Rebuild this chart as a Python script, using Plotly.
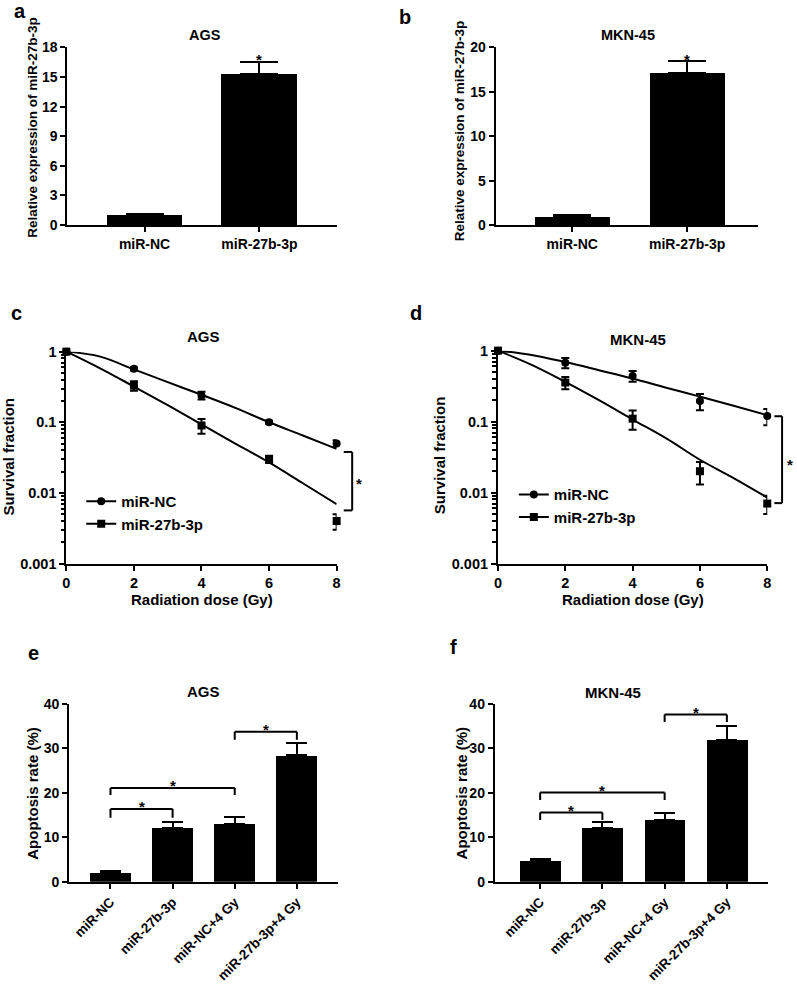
import math
import plotly.graph_objects as go

W, H = 797, 985

# === a / b : relative expression of miR-27b-3p ===
expr_groups = ["miR-NC", "miR-27b-3p"]
ags_expr = [0.97, 15.3]
ags_expr_err = [0.16, 1.25]
mkn_expr = [0.93, 17.1]
mkn_expr_err = [0.17, 1.4]

# === c / d : survival fraction ===
dose = [0, 2, 4, 6, 8]
ags_nc_sf = [1, 0.57, 0.24, 0.10, 0.05]
ags_nc_sd = [0, 0.03, 0.03, 0.005, 0.0055]
ags_mir_sf = [1, 0.33, 0.09, 0.03, 0.004]
ags_mir_sd = [0, 0.05, 0.021, 0.0035, 0.001]
mkn_nc_sf = [1, 0.675, 0.44, 0.195, 0.12]
mkn_nc_sd = [0, 0.11, 0.075, 0.05, 0.031]
mkn_mir_sf = [1, 0.356, 0.11, 0.02, 0.007]
mkn_mir_sd = [0, 0.07, 0.033, 0.007, 0.002]

# fitted curves at whole Gy
fit_dose = [0, 1, 2, 3, 4, 5, 6, 7, 8]
ags_nc_fit = [1, 0.85, 0.56, 0.37, 0.245, 0.16, 0.10, 0.065, 0.042]
ags_mir_fit = [1, 0.58, 0.32, 0.175, 0.093, 0.05, 0.027, 0.0137, 0.0069]
mkn_nc_fit = [1, 0.87, 0.69, 0.53, 0.405, 0.30, 0.225, 0.167, 0.123]
mkn_mir_fit = [1, 0.63, 0.363, 0.20, 0.107, 0.058, 0.029, 0.016, 0.0085]

# === e / f : apoptosis rate ===
apo_groups = ["miR-NC", "miR-27b-3p", "miR-NC+4 Gy", "miR-27b-3p+4 Gy"]
ags_apo = [1.95, 12.1, 13.1, 28.4]
ags_apo_err = [0.4, 1.3, 1.5, 2.8]
mkn_apo = [4.64, 12.1, 13.9, 31.9]
mkn_apo_err = [0.5, 1.3, 1.5, 3.1]

# significance brackets (left, right, top, leg end)
ags_brackets = [(0, 1, 16.35, 14.4), (0, 2, 21.1, 19.5), (2, 3, 33.7, 31.9)]
mkn_brackets = [(0, 1, 15.6, 13.9), (0, 2, 20.1, 18.4), (2, 3, 37.6, 35.9)]
# survival brackets (x, tick end, top, bottom, star x, star y)
ags_sf_bracket = (8.46, 8.21, 0.038, 0.00565, 8.67, 0.015)
mkn_sf_bracket = (8.44, 8.21, 0.119, 0.0071, 8.68, 0.0277)

FONT = "Liberation Sans, Arial, sans-serif"

# plot areas in pixels: x0, x1, y0 (top), y1 (bottom)
boxes = {
    1: (64, 336, 40, 220.7),
    2: (496.7, 762, 40, 220.7),
    3: (63, 336, 349.3, 564.7),
    4: (499, 771, 348.3, 564.7),
    5: (65.7, 337.7, 707.3, 888.3),
    6: (495.7, 771.7, 707.3, 888.3),
}


def px(x):
    return x / W


def py(y):
    return 1 - y / H


fig = go.Figure()

base_ax = dict(showline=True, linecolor="black", linewidth=2, ticks="outside",
               ticklen=5, tickwidth=2, tickcolor="black", showgrid=False,
               zeroline=False, tickfont=dict(size=14, color="black"))

layout = {}
for k, (x0, x1, y0, y1) in boxes.items():
    sfx = "" if k == 1 else str(k)
    layout["xaxis" + sfx] = dict(base_ax, domain=[px(x0), px(x1)], anchor="y" + sfx)
    layout["yaxis" + sfx] = dict(base_ax, domain=[py(y1), py(y0)], anchor="x" + sfx)


def bar_panel(k, groups, vals, errs, cap, xr, yr, dtick, tickangle=0, fsize=14):
    sfx = "" if k == 1 else str(k)
    fig.add_trace(go.Bar(
        x=list(range(len(groups))), y=vals, width=0.655,
        marker=dict(color="black", line=dict(width=0)),
        error_y=dict(type="data", array=errs, arrayminus=[0] * len(errs),
                     symmetric=False, color="black", thickness=2, width=cap),
        xaxis="x" + sfx, yaxis="y" + sfx, showlegend=False))
    layout["xaxis" + sfx].update(range=xr, tickmode="array",
                                 tickvals=list(range(len(groups))), ticktext=groups,
                                 tickangle=tickangle, tickfont=dict(size=fsize, color="black"))
    layout["yaxis" + sfx].update(range=yr, dtick=dtick, tick0=0)


bar_panel(1, expr_groups, ags_expr, ags_expr_err, 19, [-0.672, 1.672], [0, 18], 3)
bar_panel(2, expr_groups, mkn_expr, mkn_expr_err, 19, [-0.666, 1.62], [0, 20], 5)
bar_panel(5, apo_groups, ags_apo, ags_apo_err, 10.5, [-0.667, 3.667], [0, 40], 10, -45, 13.5)
bar_panel(6, apo_groups, mkn_apo, mkn_apo_err, 10.5, [-0.73, 3.66], [0, 40], 10, -45, 13.5)


def survival_panel(k, nc, nc_sd, mir, mir_sd, nc_fit, mir_fit, legend_id):
    sfx = str(k)
    for fit in (nc_fit, mir_fit):
        fig.add_trace(go.Scatter(x=fit_dose, y=fit, mode="lines", line_shape="spline",
                                 line=dict(color="black", width=2),
                                 xaxis="x" + sfx, yaxis="y" + sfx, showlegend=False))
    for vals, sd, sym, name in ((nc, nc_sd, "circle", "miR-NC"),
                                (mir, mir_sd, "square", "miR-27b-3p")):
        fig.add_trace(go.Scatter(x=dose, y=vals, mode="markers",
                                 marker=dict(color="black", size=8, symbol=sym),
                                 error_y=dict(type="data", array=sd, color="black",
                                              thickness=2, width=4),
                                 cliponaxis=False,
                                 xaxis="x" + sfx, yaxis="y" + sfx, showlegend=False))
        fig.add_trace(go.Scatter(x=[None], y=[None], mode="lines+markers", name=name,
                                 marker=dict(color="black", size=8, symbol=sym),
                                 line=dict(color="black", width=2),
                                 xaxis="x" + sfx, yaxis="y" + sfx, legend=legend_id))
    layout["xaxis" + sfx].update(range=[0, 8], dtick=2, tick0=0,
                                 tickfont=dict(size=14.5, color="black"))
    layout["yaxis" + sfx].update(type="log", range=[-3, 0], dtick=1, tick0=0,
                                 exponentformat="none",
                                 tickfont=dict(size=14.5, color="black"),
                                 minor=dict(ticks="outside", ticklen=3.5, tickwidth=1.5,
                                            tickcolor="black", dtick="D1"))


survival_panel(3, ags_nc_sf, ags_nc_sd, ags_mir_sf, ags_mir_sd, ags_nc_fit, ags_mir_fit, "legend")
survival_panel(4, mkn_nc_sf, mkn_nc_sd, mkn_mir_sf, mkn_mir_sd, mkn_nc_fit, mkn_mir_fit, "legend2")

shapes = []
annotations = []


def text(x, y, s, size=14, angle=0, xref="paper", yref="paper", xanchor="center", yshift=0):
    annotations.append(dict(x=x, y=y, text=s, showarrow=False, xref=xref, yref=yref,
                            xanchor=xanchor, yanchor="middle", textangle=angle,
                            yshift=yshift, font=dict(size=size, color="black", family=FONT,
                                                     weight="bold")))


# significance brackets on apoptosis bars
for k, brackets in ((5, ags_brackets), (6, mkn_brackets)):
    for left, right, top, leg in brackets:
        for x0, y0, x1, y1 in ((left, leg, left, top), (left, top, right, top), (right, top, right, leg)):
            shapes.append(dict(type="line", xref="x%d" % k, yref="y%d" % k,
                               x0=x0, y0=y0, x1=x1, y1=y1, line=dict(color="black", width=2)))
        text((left + right) / 2, top + 1.2, "*", 15, xref="x%d" % k, yref="y%d" % k, yshift=-3)

# survival brackets, placed in axis-domain units so they may sit right of x = 8
for k, (bx, bxl, btop, bbot, sx, sy) in ((3, ags_sf_bracket), (4, mkn_sf_bracket)):
    fx = lambda v: v / 8
    fy = lambda v: (math.log10(v) + 3) / 3
    for x0, y0, x1, y1 in ((bxl, btop, bx, btop), (bx, btop, bx, bbot), (bx, bbot, bxl, bbot)):
        shapes.append(dict(type="line", xref="x%d domain" % k, yref="y%d domain" % k,
                           x0=fx(x0), y0=fy(y0), x1=fx(x1), y1=fy(y1),
                           line=dict(color="black", width=2)))
    text(fx(sx), fy(sy), "*", 15, xref="x%d domain" % k, yref="y%d domain" % k, yshift=-3)

# stars over expression bars
text(1, 17.1, "*", 15, xref="x", yref="y", yshift=-3)
text(1, 19.0, "*", 15, xref="x2", yref="y2", yshift=-3)

# titles
text(px(203), py(27), "AGS", 14.5)
text(px(630), py(27), "MKN-45", 14.5)
text(px(202), py(334), "AGS", 15)
text(px(640), py(337), "MKN-45", 15)
text(px(202), py(695), "AGS", 15)
text(px(615), py(696), "MKN-45", 15)

# axis titles
text(px(28), py(121), "Relative expression of miR-27b-3p", 13.5, angle=-90)
text(px(461), py(125), "Relative expression of miR-27b-3p", 13.5, angle=-90)
text(px(5), py(456), "Survival fraction", 15, angle=-90)
text(px(440), py(455), "Survival fraction", 15, angle=-90)
text(px(200), py(601), "Radiation dose (Gy)", 15)
text(px(635), py(601), "Radiation dose (Gy)", 15)
text(px(28), py(798), "Apoptosis rate (%)", 15, angle=-90)
text(px(462), py(798), "Apoptosis rate (%)", 15, angle=-90)

# panel letters
for letter, x, y in (("a", 16, 3), ("b", 405, 9), ("c", 13, 310),
                     ("d", 416, 310), ("e", 30, 656), ("f", 454, 650)):
    text(px(x), py(y), letter, 20)

legend_style = dict(bgcolor="rgba(0,0,0,0)", borderwidth=0, xanchor="left", yanchor="top",
                    font=dict(size=15, color="black", family=FONT, weight="bold"),
                    itemwidth=30)

fig.update_layout(
    width=W, height=H, margin=dict(l=0, r=0, t=0, b=0),
    paper_bgcolor="white", plot_bgcolor="white",
    font=dict(family=FONT, color="black", weight="bold"),
    showlegend=True, hovermode=False,
    legend=dict(legend_style, x=px(78), y=py(485)),
    legend2=dict(legend_style, x=px(515), y=py(478)),
    bargap=0, shapes=shapes, annotations=annotations,
    **layout,
)

fig.write_html("out.html", config={"displayModeBar": False},
               post_script="document.body.style.margin='0px';")
